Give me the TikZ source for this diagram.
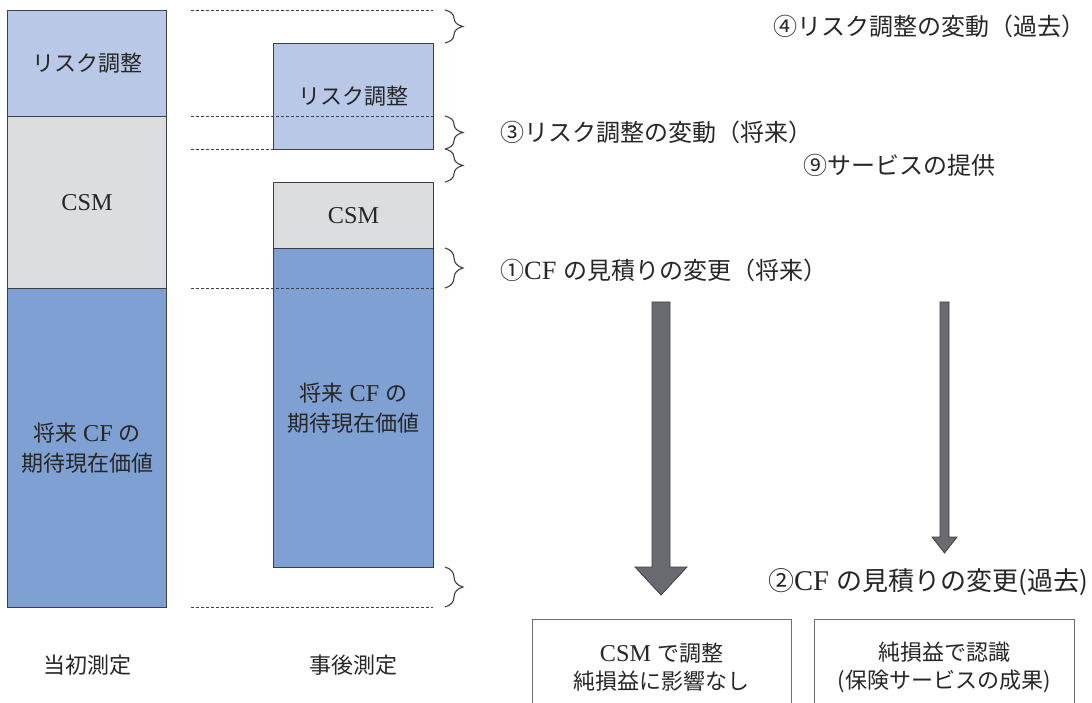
\documentclass[tikz,border=0pt]{standalone}
\usepackage{fontspec}
\setmainfont{Liberation Serif}[Scale=1.1]
\newfontfamily\cjk{Noto Sans CJK JP}
\usetikzlibrary{decorations.pathreplacing}
\definecolor{raBlue}{HTML}{B8C8E6}
\definecolor{csmGray}{HTML}{DCDDDF}
\definecolor{pvBlue}{HTML}{7FA0D2}
\definecolor{edgeCol}{HTML}{3C3F48}
\definecolor{arrowFill}{HTML}{6A6B70}
\definecolor{boxEdge}{HTML}{6E6E6E}
\definecolor{txtCol}{HTML}{262626}
\begin{document}
\begin{tikzpicture}[x=1pt,y=-1pt,
  block/.style={draw=edgeCol, line width=1pt, inner sep=0pt, anchor=north west,
    text=txtCol, font=\fontsize{22}{30}\selectfont, align=center},
  guide/.style={draw=edgeCol, line width=0.8pt, dash pattern=on 2.6pt off 2.4pt},
  bracestyle/.style={draw=edgeCol, line width=1.1pt, decorate, decoration={brace, amplitude=18pt}},
  lbl/.style={text=txtCol, font=\fontsize{24}{28}\selectfont, inner sep=0pt},
  boxtext/.style={text=txtCol, font=\fontsize{22}{28}\selectfont, align=center, inner sep=0pt},
  outbox/.style={draw=boxEdge, line width=1.1pt, inner sep=0pt, anchor=north west},
  blockarrow/.style={fill=arrowFill, draw=edgeCol, line width=0.8pt, line join=miter}]
\useasboundingbox (0,0) rectangle (1092,703);

% left column (initial measurement)
\node[block, fill=raBlue, minimum width=159pt, minimum height=106pt] (raL) at (7,10) {\cjk リスク調整};
\node[block, fill=csmGray, minimum width=159pt, minimum height=172pt] (csmL) at (7,116) {CSM};
\node[block, fill=pvBlue, minimum width=159pt, minimum height=319pt] (pvL) at (7,288) {{\cjk 将来} CF {\cjk の}\\{\cjk 期待現在価値}};

% right column (subsequent measurement)
\node[block, fill=raBlue, minimum width=160pt, minimum height=106pt] (raR) at (273,43) {\cjk リスク調整};
\node[block, fill=csmGray, minimum width=160pt, minimum height=66pt] (csmR) at (273,182) {CSM};
\node[block, fill=pvBlue, minimum width=160pt, minimum height=319pt] (pvR) at (273,248) {{\cjk 将来} CF {\cjk の}\\{\cjk 期待現在価値}};

% guide lines
\coordinate (g1s) at (191,10);  \coordinate (g1e) at (433,10);
\coordinate (g2s) at (191,116); \coordinate (g2e) at (433,116);
\coordinate (g3s) at (191,149); \coordinate (g3e) at (273,149);
\coordinate (g4s) at (191,288); \coordinate (g4e) at (433,288);
\coordinate (g5s) at (191,607); \coordinate (g5e) at (433,607);
\draw[guide] (g1s) -- (g1e);
\draw[guide] (g2s) -- (g2e);
\draw[guide] (g3s) -- (g3e);
\draw[guide] (g4s) -- (g4e);
\draw[guide] (g5s) -- (g5e);

% braces
\coordinate (b1t) at (445,10);  \coordinate (b1b) at (445,43);
\coordinate (b2t) at (445,116); \coordinate (b2b) at (445,149);
\coordinate (b3t) at (445,149); \coordinate (b3b) at (445,182);
\coordinate (b4t) at (445,248); \coordinate (b4b) at (445,288);
\coordinate (b5t) at (445,567); \coordinate (b5b) at (445,607);
\draw[bracestyle] (b1t) -- (b1b);
\draw[bracestyle] (b2t) -- (b2b);
\draw[bracestyle] (b3t) -- (b3b);
\draw[bracestyle] (b4t) -- (b4b);
\draw[bracestyle] (b5t) -- (b5b);

% labels
\node[lbl, anchor=east] (l4) at (1086,26) {\cjk ④リスク調整の変動（過去）};
\node[lbl, anchor=west] (l3) at (500,132) {\cjk ③リスク調整の変動（将来）};
\node[lbl, anchor=west] (l9) at (803,165) {\cjk ⑨サービスの提供};
\node[lbl, anchor=west] (l1) at (500,270) {{\cjk ①}CF {\cjk の見積りの変更（将来）}};
\node[lbl, anchor=east, font=\fontsize{26}{30}\selectfont] (l2) at (1088,582) {{\cjk ②}CF {\cjk の見積りの変更(過去)}};

% block arrows
\draw[blockarrow] (652,302) -- (670,302) -- (670,567) -- (687,567) -- (661,595) -- (635,567) -- (652,567) -- cycle;
\draw[blockarrow] (940,302) -- (949,302) -- (949,537) -- (957,537) -- (944.5,553) -- (932,537) -- (940,537) -- cycle;

% result boxes (open at the bottom edge of the picture)
\begin{scope}
\clip (0,0) rectangle (1092,703);
\node[outbox, minimum width=259pt, minimum height=110pt] (boxL) at (532,619) {};
\node[outbox, minimum width=260pt, minimum height=110pt] (boxR) at (814,619) {};
\end{scope}
\node[boxtext] (tL) at (661.5,667) {CSM {\cjk で調整}\\{\cjk 純損益に影響なし}};
\node[boxtext] (tR) at (944,667) {{\cjk 純損益で認識}\\{\cjk (保険サービスの成果)}};

% column captions
\node[boxtext] (capL) at (87,665) {\cjk 当初測定};
\node[boxtext] (capR) at (353,665) {\cjk 事後測定};
\end{tikzpicture}
\end{document}
